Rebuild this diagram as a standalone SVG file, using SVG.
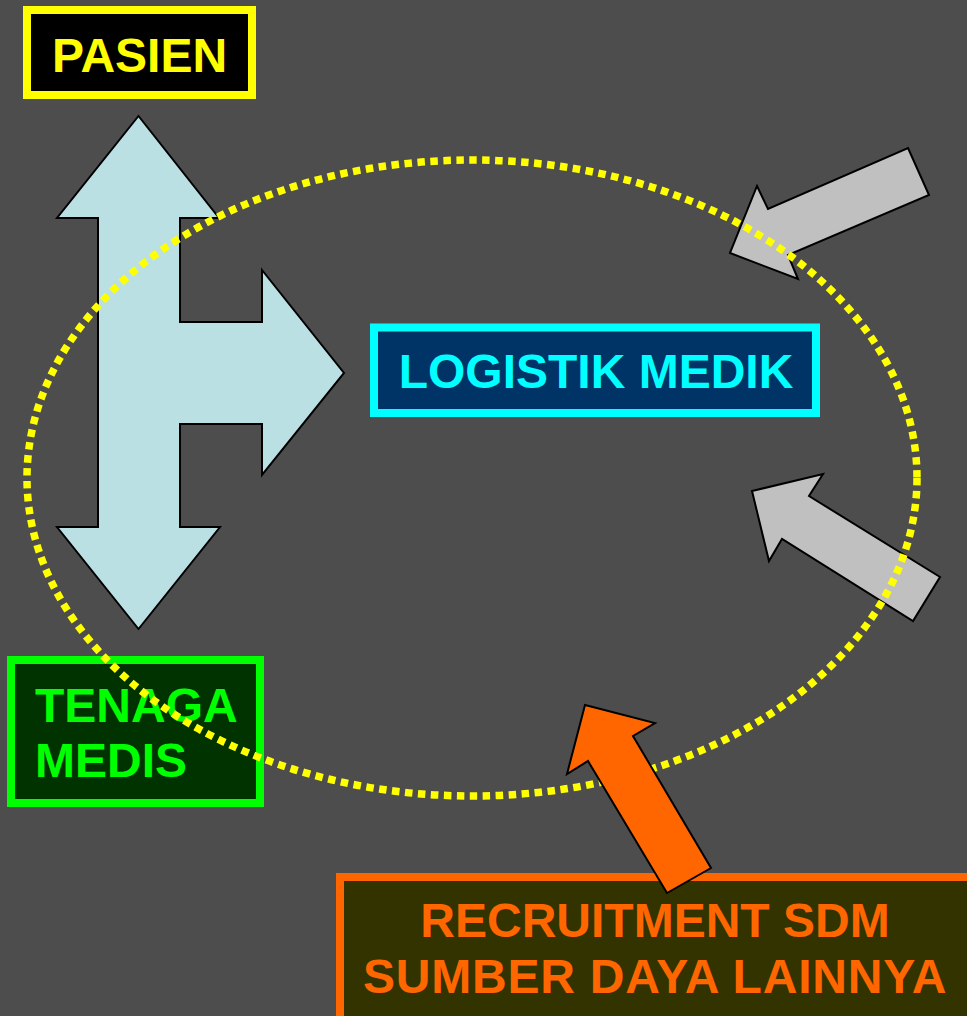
<svg xmlns="http://www.w3.org/2000/svg" width="967" height="1016" viewBox="0 0 967 1016">
<style>
text{font-family:"Liberation Sans",Arial,sans-serif;font-weight:bold;font-size:48px}
.arrow{stroke:#000;stroke-width:2;stroke-linejoin:miter}
.box{stroke-width:8}
</style>
<rect x="0" y="0" width="967" height="1016" fill="#4D4D4D"/>
<g id="connectors">
<polygon id="arrow-hub" class="arrow" fill="#BAE0E4" points="138.5,116 219,218 180,218 180,322 262,322 262,270 344,373 262,475 262,424 180,424 180,527 220,527 138.5,629 57,527 98,527 98,218 57,218"/>
<polygon id="arrow-gray-top" class="arrow" fill="#C0C0C0" points="908,148 929,195 788,255 798,279 730,253 757,186 768,209"/>
<polygon id="arrow-gray-bottom" class="arrow" fill="#C0C0C0" points="752,491 823,474 809,496 940,577 913,621 782,539 769,561"/>
</g>
<g id="pasien">
<rect class="box" x="27" y="10" width="225" height="85" fill="#000000" stroke="#FFFF00"/>
<text x="139.5" y="72" text-anchor="middle" fill="#FFFF00" font-size="47">PASIEN</text>
</g>
<g id="logistik-medik">
<rect class="box" x="374" y="327.5" width="442" height="85.5" fill="#003366" stroke="#00FFFF"/>
<text x="596" y="387.5" text-anchor="middle" fill="#00FFFF">LOGISTIK MEDIK</text>
</g>
<g id="tenaga-medis">
<rect class="box" x="11" y="660" width="249" height="143" fill="#003300" stroke="#00FF00"/>
<text x="35" y="721.5" fill="#00FF00">TENAGA</text>
<text x="35" y="777" fill="#00FF00">MEDIS</text>
</g>
<g id="cycle">
<ellipse cx="472" cy="478" rx="445" ry="318" fill="none" stroke="#FFFF00" stroke-width="7.5" stroke-dasharray="7.5 5.5"/>
</g>
<g id="recruitment">
<rect class="box" x="340" y="877" width="640" height="150" fill="#333300" stroke="#FF6600"/>
<text x="655" y="936.5" text-anchor="middle" fill="#FF6600">RECRUITMENT SDM</text>
<text x="655" y="993" text-anchor="middle" fill="#FF6600" letter-spacing="0.8">SUMBER DAYA LAINNYA</text>
</g>
<g id="connectors-front">
<polygon id="arrow-orange" class="arrow" fill="#FF6600" points="585,705 655,723 633,736 711,868 667,893 588,761 567,774"/>
</g>
</svg>
